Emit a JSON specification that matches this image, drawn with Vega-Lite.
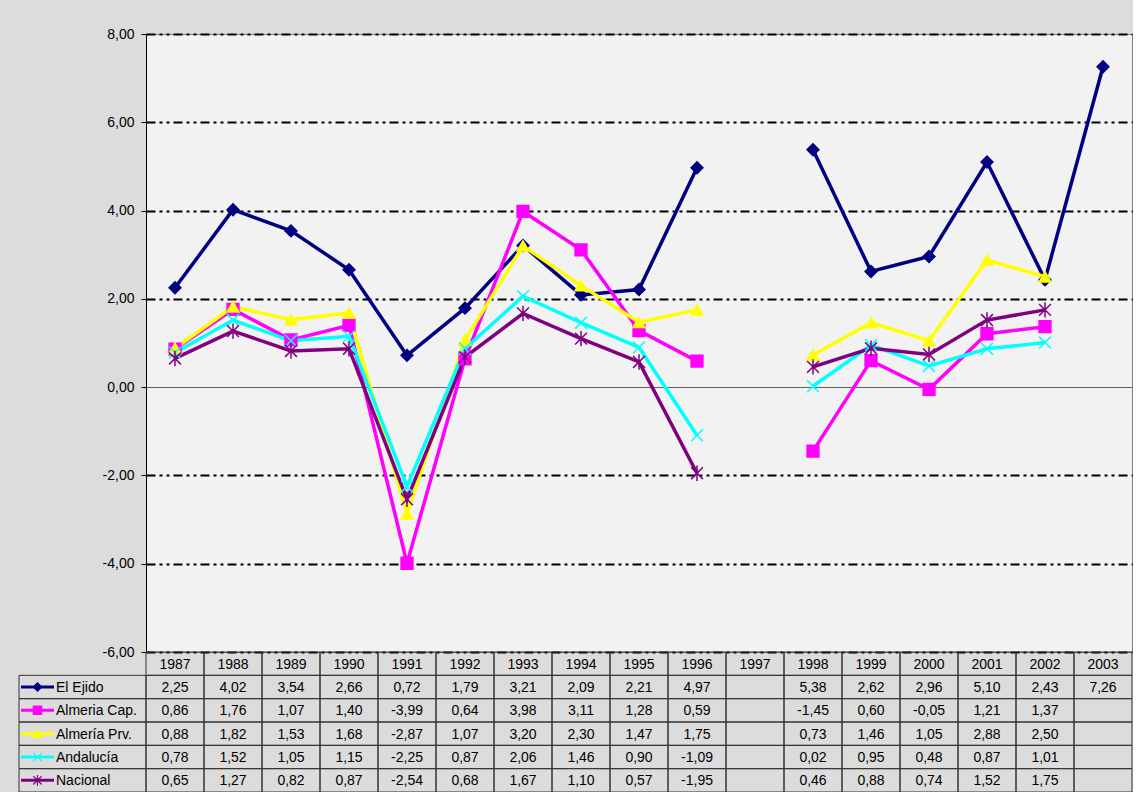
{
  "$schema": "https://vega.github.io/schema/vega-lite/v6.json",
  "background": "#dcdcdc",
  "padding": {"left": 18, "top": 26, "right": 0, "bottom": 0},
  "config": {
    "font": "Liberation Sans",
    "locale": {"number": {"decimal": ",", "thousands": ".", "grouping": [3], "currency": ["", " €"], "minus": "-"}},
    "text": {"font": "Liberation Sans", "fontSize": 14, "color": "black"}
  },
  "datasets": {
    "d": [
      {"year": 1987, "serie": "El Ejido", "v": 2.25}, {"year": 1988, "serie": "El Ejido", "v": 4.02}, {"year": 1989, "serie": "El Ejido", "v": 3.54}, {"year": 1990, "serie": "El Ejido", "v": 2.66}, {"year": 1991, "serie": "El Ejido", "v": 0.72}, {"year": 1992, "serie": "El Ejido", "v": 1.79}, {"year": 1993, "serie": "El Ejido", "v": 3.21}, {"year": 1994, "serie": "El Ejido", "v": 2.09}, {"year": 1995, "serie": "El Ejido", "v": 2.21}, {"year": 1996, "serie": "El Ejido", "v": 4.97}, {"year": 1997, "serie": "El Ejido", "v": null}, {"year": 1998, "serie": "El Ejido", "v": 5.38}, {"year": 1999, "serie": "El Ejido", "v": 2.62}, {"year": 2000, "serie": "El Ejido", "v": 2.96}, {"year": 2001, "serie": "El Ejido", "v": 5.10}, {"year": 2002, "serie": "El Ejido", "v": 2.43}, {"year": 2003, "serie": "El Ejido", "v": 7.26},
      {"year": 1987, "serie": "Almeria Cap.", "v": 0.86}, {"year": 1988, "serie": "Almeria Cap.", "v": 1.76}, {"year": 1989, "serie": "Almeria Cap.", "v": 1.07}, {"year": 1990, "serie": "Almeria Cap.", "v": 1.40}, {"year": 1991, "serie": "Almeria Cap.", "v": -3.99}, {"year": 1992, "serie": "Almeria Cap.", "v": 0.64}, {"year": 1993, "serie": "Almeria Cap.", "v": 3.98}, {"year": 1994, "serie": "Almeria Cap.", "v": 3.11}, {"year": 1995, "serie": "Almeria Cap.", "v": 1.28}, {"year": 1996, "serie": "Almeria Cap.", "v": 0.59}, {"year": 1997, "serie": "Almeria Cap.", "v": null}, {"year": 1998, "serie": "Almeria Cap.", "v": -1.45}, {"year": 1999, "serie": "Almeria Cap.", "v": 0.60}, {"year": 2000, "serie": "Almeria Cap.", "v": -0.05}, {"year": 2001, "serie": "Almeria Cap.", "v": 1.21}, {"year": 2002, "serie": "Almeria Cap.", "v": 1.37}, {"year": 2003, "serie": "Almeria Cap.", "v": null},
      {"year": 1987, "serie": "Almería Prv.", "v": 0.88}, {"year": 1988, "serie": "Almería Prv.", "v": 1.82}, {"year": 1989, "serie": "Almería Prv.", "v": 1.53}, {"year": 1990, "serie": "Almería Prv.", "v": 1.68}, {"year": 1991, "serie": "Almería Prv.", "v": -2.87}, {"year": 1992, "serie": "Almería Prv.", "v": 1.07}, {"year": 1993, "serie": "Almería Prv.", "v": 3.20}, {"year": 1994, "serie": "Almería Prv.", "v": 2.30}, {"year": 1995, "serie": "Almería Prv.", "v": 1.47}, {"year": 1996, "serie": "Almería Prv.", "v": 1.75}, {"year": 1997, "serie": "Almería Prv.", "v": null}, {"year": 1998, "serie": "Almería Prv.", "v": 0.73}, {"year": 1999, "serie": "Almería Prv.", "v": 1.46}, {"year": 2000, "serie": "Almería Prv.", "v": 1.05}, {"year": 2001, "serie": "Almería Prv.", "v": 2.88}, {"year": 2002, "serie": "Almería Prv.", "v": 2.50}, {"year": 2003, "serie": "Almería Prv.", "v": null},
      {"year": 1987, "serie": "Andalucía", "v": 0.78}, {"year": 1988, "serie": "Andalucía", "v": 1.52}, {"year": 1989, "serie": "Andalucía", "v": 1.05}, {"year": 1990, "serie": "Andalucía", "v": 1.15}, {"year": 1991, "serie": "Andalucía", "v": -2.25}, {"year": 1992, "serie": "Andalucía", "v": 0.87}, {"year": 1993, "serie": "Andalucía", "v": 2.06}, {"year": 1994, "serie": "Andalucía", "v": 1.46}, {"year": 1995, "serie": "Andalucía", "v": 0.90}, {"year": 1996, "serie": "Andalucía", "v": -1.09}, {"year": 1997, "serie": "Andalucía", "v": null}, {"year": 1998, "serie": "Andalucía", "v": 0.02}, {"year": 1999, "serie": "Andalucía", "v": 0.95}, {"year": 2000, "serie": "Andalucía", "v": 0.48}, {"year": 2001, "serie": "Andalucía", "v": 0.87}, {"year": 2002, "serie": "Andalucía", "v": 1.01}, {"year": 2003, "serie": "Andalucía", "v": null},
      {"year": 1987, "serie": "Nacional", "v": 0.65}, {"year": 1988, "serie": "Nacional", "v": 1.27}, {"year": 1989, "serie": "Nacional", "v": 0.82}, {"year": 1990, "serie": "Nacional", "v": 0.87}, {"year": 1991, "serie": "Nacional", "v": -2.54}, {"year": 1992, "serie": "Nacional", "v": 0.68}, {"year": 1993, "serie": "Nacional", "v": 1.67}, {"year": 1994, "serie": "Nacional", "v": 1.10}, {"year": 1995, "serie": "Nacional", "v": 0.57}, {"year": 1996, "serie": "Nacional", "v": -1.95}, {"year": 1997, "serie": "Nacional", "v": null}, {"year": 1998, "serie": "Nacional", "v": 0.46}, {"year": 1999, "serie": "Nacional", "v": 0.88}, {"year": 2000, "serie": "Nacional", "v": 0.74}, {"year": 2001, "serie": "Nacional", "v": 1.52}, {"year": 2002, "serie": "Nacional", "v": 1.75}, {"year": 2003, "serie": "Nacional", "v": null}
    ]
  },
  "columns": 2,
  "bounds": "flush",
  "spacing": 0,
  "concat": [
    {
      "width": 127, "height": 618,
      "view": {"stroke": null},
      "data": {"name": "d"},
      "transform": [{"filter": "false"}],
      "mark": {"type": "point", "opacity": 0},
      "encoding": {}
    },
    {
      "width": 986, "height": 618,
      "view": {"fill": "#f2f2f2", "stroke": "#808080"},
      "data": {"name": "d"},
      "encoding": {
        "x": {"field": "year", "type": "ordinal", "axis": null, "scale": {"type": "point", "padding": 0.5}},
        "y": {
          "field": "v", "type": "quantitative",
          "scale": {"domain": [-6, 8], "nice": false, "zero": false},
          "axis": {
            "title": null, "values": [-6, -4, -2, 0, 2, 4, 6, 8], "format": ".2f",
            "labelFont": "Liberation Sans", "labelFontSize": 14, "labelColor": "black",
            "tickColor": "black", "tickSize": 5, "labelPadding": 7,
            "domainColor": "black", "domainWidth": 1,
            "grid": true,
            "gridColor": {"condition": {"test": "datum.value === 0", "value": "#606060"}, "value": "black"},
            "gridDash": {"condition": {"test": "datum.value === 0", "value": []}, "value": [9, 4, 3, 4, 3, 4]},
            "gridWidth": {"condition": {"test": "datum.value === 0", "value": 1}, "value": 2}
          }
        },
        "color": {"field": "serie", "type": "nominal", "legend": null,
          "scale": {"domain": ["El Ejido", "Almeria Cap.", "Almería Prv.", "Andalucía", "Nacional"], "range": ["#000080", "#ff00ff", "#ffff00", "#00ffff", "#800080"]}}
      },
      "layer": [
        {"mark": {"type": "line", "strokeWidth": 3.5, "invalid": "break-paths-filter-domains"}},
        {
          "mark": {"type": "point", "filled": true, "opacity": 1, "strokeWidth": 1.5, "size": 140, "invalid": "filter"},
          "encoding": {
            "shape": {"field": "serie", "type": "nominal", "legend": null,
              "scale": {"domain": ["El Ejido", "Almeria Cap.", "Almería Prv.", "Andalucía", "Nacional"], "range": ["diamond", "square", "triangle-up", "M-1,-1L1,1M-1,1L1,-1", "M-1,-1L1,1M-1,1L1,-1M0,-1.3L0,1.3"]}},
            "stroke": {"field": "serie", "type": "nominal", "legend": null,
              "scale": {"domain": ["El Ejido", "Almeria Cap.", "Almería Prv.", "Andalucía", "Nacional"], "range": ["#000080", "#ff00ff", "#ffff00", "#00ffff", "#800080"]}}
          }
        }
      ]
    },
    {
      "width": 127, "height": 140,
      "view": {"stroke": null},
      "data": {"name": "d"},
      "transform": [{"aggregate": [{"op": "count", "as": "n"}], "groupby": ["serie"]}],
      "encoding": {
        "y": {"field": "serie", "type": "nominal", "axis": null,
          "scale": {"domain": ["Año", "El Ejido", "Almeria Cap.", "Almería Prv.", "Andalucía", "Nacional"], "paddingInner": 0, "paddingOuter": 0}}
      },
      "layer": [
        {"mark": {"type": "rect", "fill": "transparent", "stroke": "#333333", "strokeWidth": 1}},
        {
          "mark": {"type": "rule", "strokeWidth": 3},
          "encoding": {
            "x": {"datum": 2, "type": "quantitative", "axis": null, "scale": {"domain": [0, 127], "nice": false, "zero": false}},
            "x2": {"datum": 35},
            "color": {"field": "serie", "type": "nominal", "legend": null,
              "scale": {"domain": ["El Ejido", "Almeria Cap.", "Almería Prv.", "Andalucía", "Nacional"], "range": ["#000080", "#ff00ff", "#ffff00", "#00ffff", "#800080"]}}
          }
        },
        {
          "mark": {"type": "point", "filled": true, "opacity": 1, "strokeWidth": 1.2, "size": 70},
          "encoding": {
            "x": {"datum": 18.5, "type": "quantitative"},
            "shape": {"field": "serie", "type": "nominal", "legend": null,
              "scale": {"domain": ["El Ejido", "Almeria Cap.", "Almería Prv.", "Andalucía", "Nacional"], "range": ["diamond", "square", "triangle-up", "M-1,-1L1,1M-1,1L1,-1", "M-1,-1L1,1M-1,1L1,-1M0,-1.3L0,1.3"]}},
            "color": {"field": "serie", "type": "nominal", "legend": null,
              "scale": {"domain": ["El Ejido", "Almeria Cap.", "Almería Prv.", "Andalucía", "Nacional"], "range": ["#000080", "#ff00ff", "#ffff00", "#00ffff", "#800080"]}},
            "stroke": {"field": "serie", "type": "nominal", "legend": null,
              "scale": {"domain": ["El Ejido", "Almeria Cap.", "Almería Prv.", "Andalucía", "Nacional"], "range": ["#000080", "#ff00ff", "#ffff00", "#00ffff", "#800080"]}}
          }
        },
        {
          "mark": {"type": "text", "align": "left", "baseline": "middle", "fontSize": 14, "dy": 1},
          "encoding": {
            "x": {"datum": 37, "type": "quantitative"},
            "text": {"field": "serie", "type": "nominal"}
          }
        }
      ]
    },
    {
      "width": 986, "height": 140,
      "view": {"stroke": null},
      "data": {"name": "d"},
      "encoding": {
        "x": {"field": "year", "type": "ordinal", "axis": null, "scale": {"type": "band", "paddingInner": 0, "paddingOuter": 0}}
      },
      "layer": [
        {
          "mark": {"type": "rect", "fill": "transparent", "stroke": "#333333", "strokeWidth": 1},
          "encoding": {
            "y": {"field": "serie", "type": "nominal", "axis": null,
              "scale": {"domain": ["Año", "El Ejido", "Almeria Cap.", "Almería Prv.", "Andalucía", "Nacional"], "paddingInner": 0, "paddingOuter": 0}}
          }
        },
        {
          "transform": [{"aggregate": [{"op": "count", "as": "n"}], "groupby": ["year"]}],
          "mark": {"type": "rect", "fill": "transparent", "stroke": "#333333", "strokeWidth": 1},
          "encoding": {"y": {"datum": "Año", "type": "nominal"}}
        },
        {
          "transform": [{"filter": "isValid(datum.v)"}],
          "mark": {"type": "text", "baseline": "middle", "fontSize": 14, "dy": 1},
          "encoding": {
            "y": {"field": "serie", "type": "nominal"},
            "text": {"field": "v", "type": "quantitative", "format": ".2f"}
          }
        },
        {
          "transform": [{"aggregate": [{"op": "count", "as": "n"}], "groupby": ["year"]}],
          "mark": {"type": "text", "baseline": "middle", "fontSize": 14, "dy": 1},
          "encoding": {
            "y": {"datum": "Año", "type": "nominal"},
            "text": {"field": "year", "type": "ordinal"}
          }
        }
      ]
    }
  ]
}
